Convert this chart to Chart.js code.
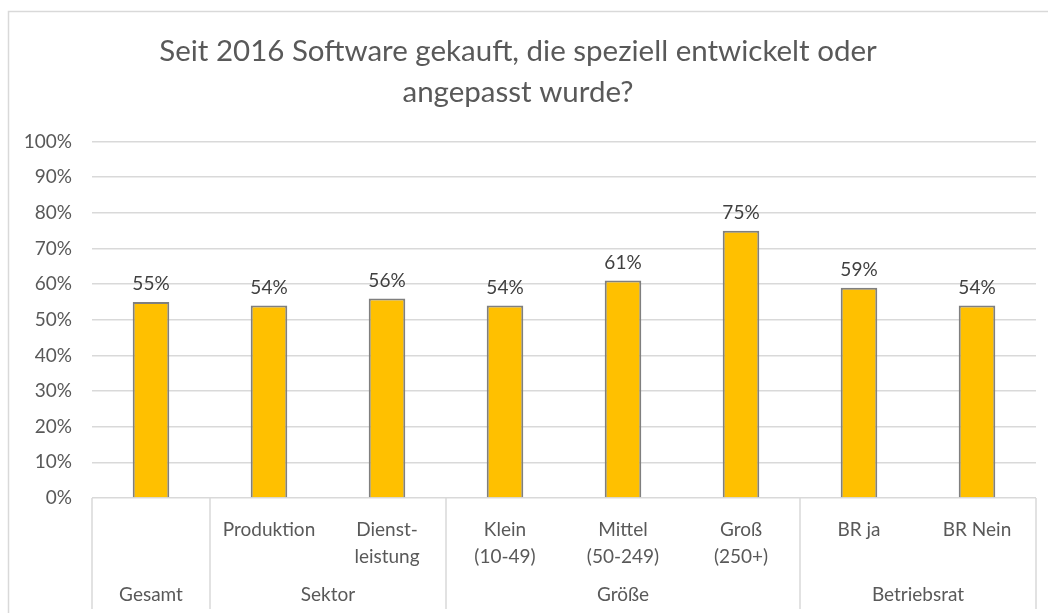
<!DOCTYPE html>
<html>
<head>
<meta charset="utf-8">
<script src="https://cdn.jsdelivr.net/npm/chart.js@4"></script>
<style>
  html, body { margin: 0; padding: 0; background: #fff; }
  canvas { display: block; }
</style>
</head>
<body>
<canvas id="chart" width="1048" height="613"></canvas>
<script>
const categories = [
  ["", ""],
  ["Produktion", ""],
  ["Dienst-", "leistung"],
  ["Klein", "(10-49)"],
  ["Mittel", "(50-249)"],
  ["Groß", "(250+)"],
  ["BR ja", ""],
  ["BR Nein", ""]
];
const values = [0.55, 0.54, 0.56, 0.54, 0.61, 0.75, 0.59, 0.54];
const groupNames = ["Gesamt", "Sektor", "Größe", "Betriebsrat"];
const groupSizes = [1, 2, 3, 2];
const titleLines = ["Seit 2016 Software gekauft, die speziell entwickelt oder", "angepasst wurde?"];

const FONT = "Lato, 'Open Sans', sans-serif";
const lineColor = "#d9d9d9";

// outer frame, group row and separator lines
const frame = {
  id: "frame",
  beforeDraw(chart) {
    const ctx = chart.ctx;
    ctx.save();
    ctx.fillStyle = "#fff";
    ctx.fillRect(0, 0, chart.width, chart.height);
    ctx.strokeStyle = lineColor;
    ctx.lineWidth = 1.5;
    ctx.beginPath();
    ctx.moveTo(8.5, chart.height + 2);
    ctx.lineTo(8.5, 11.5);
    ctx.lineTo(chart.width + 2, 11.5);
    ctx.stroke();
    ctx.restore();
  },
  afterDraw(chart) {
    const ctx = chart.ctx;
    const x = chart.scales.x;
    const area = chart.chartArea;
    const half = (x.getPixelForValue(1) - x.getPixelForValue(0)) / 2;
    const bottom = 609;
    ctx.save();
    ctx.strokeStyle = lineColor;
    ctx.lineWidth = 1.5;
    ctx.font = "19px " + FONT;
    ctx.fillStyle = "#595959";
    ctx.textAlign = "center";
    ctx.textBaseline = "middle";
    let idx = 0;
    const edge = x.getPixelForValue(0) - half;
    ctx.beginPath();
    ctx.moveTo(edge, area.bottom);
    ctx.lineTo(edge, bottom);
    ctx.stroke();
    groupNames.forEach((name, g) => {
      const left = x.getPixelForValue(idx) - half;
      idx += groupSizes[g];
      const right = x.getPixelForValue(idx - 1) + half;
      ctx.beginPath();
      ctx.moveTo(right, area.bottom);
      ctx.lineTo(right, bottom);
      ctx.stroke();
      ctx.fillText(name, (left + right) / 2, 595);
    });
    ctx.restore();
  },
  afterDatasetsDraw(chart) {
    const ctx = chart.ctx;
    const meta = chart.getDatasetMeta(0);
    ctx.save();
    ctx.font = "19px " + FONT;
    ctx.fillStyle = "#404040";
    ctx.textAlign = "center";
    ctx.textBaseline = "middle";
    meta.data.forEach((bar, i) => {
      ctx.fillText(Math.round(values[i] * 100) + "%", bar.x, bar.y - 18);
    });
    ctx.restore();
  }
};

new Chart(document.getElementById("chart"), {
  type: "bar",
  data: {
    labels: categories,
    datasets: [{
      data: values,
      backgroundColor: "#ffc000",
      borderColor: "#7f7f7f",
      borderWidth: 2,
      categoryPercentage: 1,
      barPercentage: 0.31
    }]
  },
  options: {
    responsive: false,
    animation: false,
    devicePixelRatio: 1,
    layout: { padding: { left: 0, right: 12, top: 0, bottom: 0 } },
    plugins: {
      legend: { display: false },
      tooltip: { enabled: false },
      title: {
        display: true,
        text: titleLines,
        color: "#595959",
        font: { family: FONT, size: 29.5, weight: "normal", lineHeight: 1.4 },
        padding: { top: 31, bottom: 28 }
      }
    },
    scales: {
      x: {
        grid: { display: false },
        border: { display: false },
        ticks: {
          color: "#595959",
          font: { family: FONT, size: 19, lineHeight: 1.42 },
          padding: 10,
          maxRotation: 0,
          autoSkip: false
        },
        afterFit: s => { s.height = 115; }
      },
      y: {
        min: 0,
        max: 1,
        grid: { color: lineColor, lineWidth: 1.5, drawTicks: false },
        border: { display: false },
        ticks: {
          stepSize: 0.1,
          color: "#595959",
          font: { family: FONT, size: 19 },
          padding: 20,
          callback: v => Math.round(v * 100) + "%"
        },
        afterFit: s => { s.width = 92; }
      }
    }
  },
  plugins: [frame]
});
</script>
</body>
</html>
